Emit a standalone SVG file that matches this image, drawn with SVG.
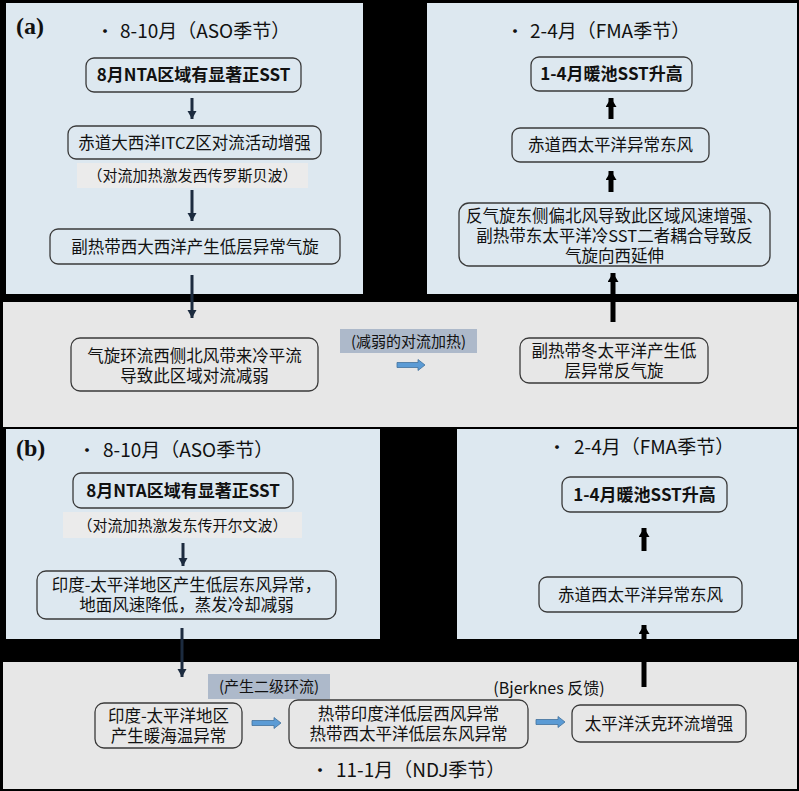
<svg xmlns="http://www.w3.org/2000/svg" width="799" height="791" viewBox="0 0 799 791">
<style>
.bp{fill:#dde8f0}
.gp{fill:#e7e7e7}
.box{fill:none;stroke:#3a3a3a;stroke-width:1.3}
.lbl1{fill:#ebebeb}
.lbl2{fill:#adb9ca}
text{font-family:"Noto Sans CJK SC","Noto Sans",sans-serif;fill:#111;text-anchor:middle}
.t{font-size:16.5px}
.tb{font-size:17px;font-weight:bold}
.ts{font-size:15px}
.h{font-size:19px;text-anchor:start}
.bul{font-size:18px}
.pl{font-family:"Liberation Serif",serif;font-weight:bold;font-size:24px;text-anchor:start}
.nv{stroke:#1c2b3f;stroke-width:3;fill:none}
.bk{stroke:#000;stroke-width:5;fill:none}
.ba{fill:#5b9bd5;stroke:#41719c;stroke-width:0.8}
</style>
<defs>
<marker id="mNav" markerUnits="userSpaceOnUse" markerWidth="10" markerHeight="10" refX="8" refY="4.5" orient="auto"><path d="M0,0 L8,4.5 L0,9 Z" fill="#1c2b3f"/></marker>
<marker id="mBlk" markerUnits="userSpaceOnUse" markerWidth="12" markerHeight="12" refX="9" refY="5.5" orient="auto"><path d="M0,0 L9,5.5 L0,11 Z" fill="#000"/></marker>
</defs>
<rect x="0" y="0" width="799" height="791" fill="#000"/>
<rect class="bp" x="6" y="3" width="357" height="291"/>
<rect class="bp" x="427" y="3" width="370" height="291"/>
<rect class="gp" x="3" y="302" width="794" height="125"/>
<rect class="bp" x="6" y="429" width="374" height="210"/>
<rect class="bp" x="457" y="429" width="340" height="210"/>
<rect class="gp" x="3" y="662" width="794" height="127"/>

<text class="pl" x="16" y="34">(a)</text>
<text class="pl" x="16" y="456">(b)</text>
<text class="bul" x="105" y="38">•</text><text class="h" x="120" y="38">8-10月（ASO季节）</text>
<text class="bul" x="515" y="38">•</text><text class="h" x="530" y="38">2-4月（FMA季节）</text>
<text class="bul" x="87" y="457">•</text><text class="h" x="103" y="457">8-10月（ASO季节）</text>
<text class="bul" x="557" y="454">•</text><text class="h" x="574" y="454">2-4月（FMA季节）</text>
<text class="bul" x="320" y="777">•</text><text class="h" x="336" y="777">11-1月（NDJ季节）</text>

<g id="a1"><rect class="box" x="86" y="58" width="215" height="34" rx="8"/><text class="tb" x="193.5" y="81">8月NTA区域有显著正SST</text></g>
<g id="a2"><rect class="box" x="68" y="126" width="253" height="33" rx="8"/><text class="t" x="194.5" y="149">赤道大西洋ITCZ区对流活动增强</text></g>
<g id="a2l"><rect class="lbl1" x="77" y="163" width="231" height="25"/><text class="ts" x="192.5" y="181">（对流加热激发西传罗斯贝波）</text></g>
<g id="a3"><rect class="box" x="50" y="229" width="290" height="35" rx="8"/><text class="t" x="195" y="253">副热带西大西洋产生低层异常气旋</text></g>
<g id="a4"><rect class="box" x="71" y="338" width="247" height="53" rx="9"/><text class="t" y="362"><tspan x="194.5">气旋环流西侧北风带来冷平流</tspan><tspan x="194.5" dy="20">导致此区域对流减弱</tspan></text></g>
<g id="a4l"><rect class="lbl2" x="340" y="329" width="137" height="24"/><text class="ts" x="408.5" y="347">(减弱的对流加热)</text></g>
<g id="a5"><rect class="box" x="520" y="338" width="188" height="45" rx="9"/><text class="t" y="357"><tspan x="614">副热带冬太平洋产生低</tspan><tspan x="614" dy="20">层异常反气旋</tspan></text></g>
<g id="a6"><rect class="box" x="459" y="203" width="311" height="63" rx="10"/><text class="t" y="222"><tspan x="614.5">反气旋东侧偏北风导致此区域风速增强、</tspan><tspan x="614.5" dy="20">副热带东太平洋冷SST二者耦合导致反</tspan><tspan x="614.5" dy="20">气旋向西延伸</tspan></text></g>
<g id="a7"><rect class="box" x="512" y="128" width="197" height="34" rx="8"/><text class="t" x="610.5" y="151">赤道西太平洋异常东风</text></g>
<g id="a8"><rect class="box" x="531" y="57" width="161" height="34" rx="8"/><text class="tb" x="611.5" y="80">1-4月暖池SST升高</text></g>

<g id="b1"><rect class="box" x="73" y="473" width="220" height="35" rx="8"/><text class="tb" x="183" y="497">8月NTA区域有显著正SST</text></g>
<g id="b1l"><rect class="lbl1" x="63" y="512" width="239" height="26"/><text class="ts" x="182.5" y="531">（对流加热激发东传开尔文波）</text></g>
<g id="b2"><rect class="box" x="37" y="571" width="299" height="48" rx="9"/><text class="t" y="591"><tspan x="186.5">印度-太平洋地区产生低层东风异常，</tspan><tspan x="186.5" dy="20">地面风速降低，蒸发冷却减弱</tspan></text></g>
<g id="b3"><rect class="box" x="95" y="703" width="147" height="45" rx="9"/><text class="t" y="722"><tspan x="168.5">印度-太平洋地区</tspan><tspan x="168.5" dy="20">产生暖海温异常</tspan></text></g>
<g id="b3l"><rect class="lbl2" x="208" y="674" width="122" height="25"/><text class="ts" x="269" y="692">(产生二级环流)</text></g>
<g id="b4"><rect class="box" x="289" y="700" width="239" height="48" rx="9"/><text class="t" y="720"><tspan x="408.5">热带印度洋低层西风异常</tspan><tspan x="408.5" dy="20">热带西太平洋低层东风异常</tspan></text></g>
<g id="b4l"><text class="ts" x="549" y="694" style="font-size:16px">(Bjerknes 反馈)</text></g>
<g id="b5"><rect class="box" x="572" y="705" width="174" height="37" rx="8"/><text class="t" x="659" y="730">太平洋沃克环流增强</text></g>
<g id="b6"><rect class="box" x="539" y="577" width="203" height="35" rx="8"/><text class="t" x="640.5" y="601">赤道西太平洋异常东风</text></g>
<g id="b7"><rect class="box" x="562" y="477" width="165" height="35" rx="8"/><text class="tb" x="644.5" y="501">1-4月暖池SST升高</text></g>

<g id="connectors">
<line class="nv" x1="192" y1="98" x2="192" y2="119" marker-end="url(#mNav)"/>
<line class="nv" x1="192" y1="190" x2="192" y2="221" marker-end="url(#mNav)"/>
<line class="nv" x1="192" y1="275" x2="192" y2="318" marker-end="url(#mNav)"/>
<line class="bk" x1="613" y1="322" x2="613" y2="273" marker-end="url(#mBlk)"/>
<line class="bk" x1="611" y1="192" x2="611" y2="171" marker-end="url(#mBlk)"/>
<line class="bk" x1="611" y1="119" x2="611" y2="98" marker-end="url(#mBlk)"/>
<path class="ba" d="M397,362.5 H418 V359.5 L425,365 L418,370.5 V367.5 H397 Z"/>
<line class="nv" x1="183" y1="543" x2="183" y2="566" marker-end="url(#mNav)"/>
<line class="nv" x1="182" y1="628" x2="182" y2="677" marker-end="url(#mNav)"/>
<line class="bk" x1="644" y1="551" x2="644" y2="528" marker-end="url(#mBlk)"/>
<line class="bk" x1="644" y1="687" x2="644" y2="625" marker-end="url(#mBlk)"/>
<path class="ba" d="M252,720.5 H274 V717.5 L281,723 L274,728.5 V725.5 H252 Z"/>
<path class="ba" d="M536,719.5 H558 V716.5 L565,722 L558,727.5 V724.5 H536 Z"/>
</g>
</svg>
